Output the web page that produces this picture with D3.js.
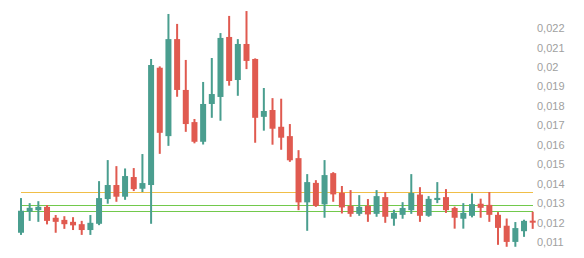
<!DOCTYPE html>
<html><head><meta charset="utf-8">
<script src="https://cdn.jsdelivr.net/npm/d3@7"></script>
<style>body{margin:0;background:#fff}svg{display:block}</style>
</head><body>
<svg id="c" width="584" height="258"></svg>
<script>
// OHLC values (x 0.001)
const opens  = [11.49,12.57,12.65,12.82,12.26,12.15,12.05,11.93,11.63,11.95,13.22,13.94,13.34,14.35,13.75,13.94,19.96,16.45,21.43,18.82,17.17,16.16,18.10,18.46,21.54,19.33,21.18,20.41,17.44,17.79,16.93,16.45,15.32,13.05,14.05,12.95,14.55,13.54,12.87,12.46,12.87,12.46,13.32,12.21,12.41,12.65,13.45,12.36,13.17,13.32,12.76,12.21,12.36,12.98,12.92,12.41,11.85,11.02,11.57,12.11];
const highs  = [13.27,13.01,13.11,12.91,12.40,12.34,12.29,12.10,12.40,14.14,15.22,14.91,14.79,14.81,15.53,20.41,20.03,22.72,22.21,20.36,17.33,19.23,20.46,21.74,22.62,21.43,22.87,20.44,18.92,18.40,18.37,17.07,15.73,14.50,14.19,15.22,14.60,13.89,13.68,13.42,13.22,13.68,13.58,12.67,13.06,14.50,13.83,13.37,14.09,13.73,12.83,13.01,13.51,13.24,13.58,12.55,12.22,12.04,12.16,12.57];
const lows   = [11.38,12.10,12.05,11.92,11.49,11.69,11.63,11.38,11.38,11.88,12.98,13.08,13.18,13.63,13.58,11.95,15.54,15.95,18.47,16.67,16.08,16.02,17.39,17.24,19.04,18.52,19.89,16.11,16.73,16.01,15.75,15.13,12.65,11.59,12.82,12.26,13.08,12.48,12.31,12.36,12.05,12.31,12.00,11.85,12.21,12.46,12.05,12.31,13.01,12.51,11.70,11.70,12.28,12.26,12.05,10.87,10.77,10.77,11.28,11.69];
const closes = [12.62,12.77,12.82,12.10,12.05,11.93,11.87,11.63,12.00,13.27,13.94,13.34,14.40,13.73,14.04,20.10,16.62,21.43,18.82,17.07,16.16,18.10,18.61,21.49,19.28,21.18,20.31,17.39,17.74,16.83,16.37,15.21,13.05,14.09,12.87,14.45,13.46,12.79,12.46,12.82,12.43,13.37,12.31,12.51,12.76,13.53,12.36,13.23,13.28,12.65,12.26,12.51,12.96,12.77,12.41,11.74,11.02,11.73,12.10,12.04];
const categories = d3.range(1, 61);
const levelValues = [13.56, 12.89, 12.59];
const levelColors = ["#f0be48", "#72c94c", "#72c94c"];
const tickValues = [11,12,13,14,15,16,17,18,19,20,21,22];
const tickLabels = ["0,011","0,012","0,013","0,014","0,015","0,016","0,017","0,018","0,019","0,02","0,021","0,022"];

const svg = d3.select("#c");
const x = d3.scalePoint().domain(categories).range([21, 532.7]);
const y = d3.scaleLinear().domain([11, 22]).range([242.3, 28]);
const up = "#4a9e8f", down = "#e05a50";

// level lines
svg.append("g").selectAll("line").data(levelValues).join("line")
  .attr("x1", x(categories[0])).attr("x2", x(categories[categories.length-1]))
  .attr("y1", d => Math.round(y(d)) + 0.5).attr("y2", d => Math.round(y(d)) + 0.5)
  .attr("stroke", (d,i) => levelColors[i]).attr("stroke-width", 1)
  .attr("shape-rendering", "crispEdges");

const data = categories.map((c,i) => ({c, o: opens[i], h: highs[i], l: lows[i], cl: closes[i]}));
const g = svg.append("g");
const cg = g.selectAll("g").data(data).join("g");
cg.append("rect")
  .attr("x", d => x(d.c) - 1).attr("width", 2)
  .attr("y", d => y(d.h)).attr("height", d => y(d.l) - y(d.h))
  .attr("fill", d => d.cl >= d.o ? up : down);
cg.append("rect")
  .attr("x", d => x(d.c) - 3).attr("width", 6)
  .attr("y", d => y(Math.max(d.o, d.cl)))
  .attr("height", d => Math.max(2, Math.abs(y(d.o) - y(d.cl))))
  .attr("fill", d => d.cl >= d.o ? up : down);

// right axis
const ax = svg.append("g").attr("transform", "translate(535,0)")
  .call(d3.axisRight(y).tickValues(tickValues).tickSize(0).tickPadding(2)
    .tickFormat((d,i) => tickLabels[i]));
ax.select(".domain").remove();
ax.selectAll("text").attr("fill", "#a0a0a0").style("font-family", "Arial, 'Liberation Sans', sans-serif").style("font-size", "11px");
</script>
</body></html>
